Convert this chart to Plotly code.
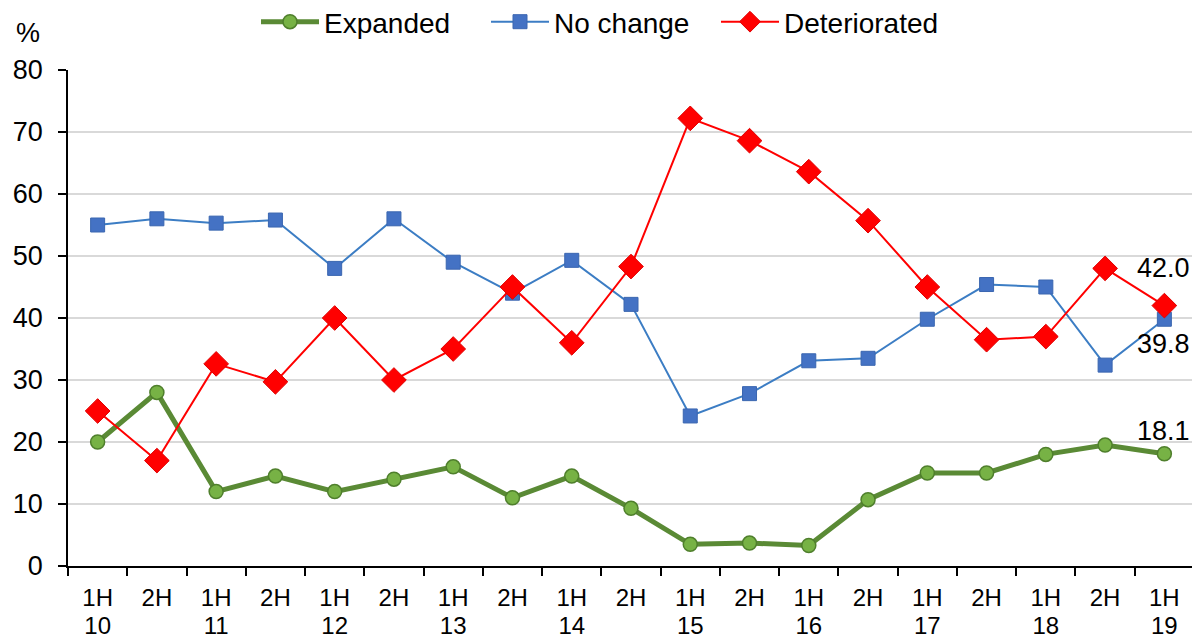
import plotly.graph_objects as go

halves = ["1H", "2H", "1H", "2H", "1H", "2H", "1H", "2H", "1H", "2H",
          "1H", "2H", "1H", "2H", "1H", "2H", "1H", "2H", "1H"]
years = ["10", "", "11", "", "12", "", "13", "", "14", "",
         "15", "", "16", "", "17", "", "18", "", "19"]
expanded = [20, 28, 12, 14.5, 12, 14, 16, 11, 14.5, 9.3, 3.5, 3.7, 3.3, 10.7, 15, 15, 18, 19.5, 18.1]
no_change = [55, 56, 55.3, 55.8, 48, 56, 49, 44, 49.3, 42.2, 24.2, 27.8, 33.1, 33.5, 39.8, 45.4, 45, 32.4, 39.8]
deteriorated = [25, 17, 32.6, 29.7, 40, 30, 35, 45, 36, 48.3, 72.2, 68.6, 63.6, 55.7, 45, 36.5, 37, 48, 42.0]

n = len(halves)
x = list(range(n))
year_pos = [i for i, y in enumerate(years) if y]
year_txt = [y for y in years if y]
font = "Liberation Sans, Arial, sans-serif"

fig = go.Figure()
fig.add_trace(go.Scatter(
    x=x, y=expanded, name="Expanded", mode="lines+markers",
    line=dict(color="#5A8A35", width=5),
    marker=dict(symbol="circle", size=14, color="#77B245", line=dict(color="#4F7F2C", width=1.5))))
fig.add_trace(go.Scatter(
    x=x, y=no_change, name="No change", mode="lines+markers",
    line=dict(color="#3C7DC4", width=2),
    marker=dict(symbol="square", size=14, color="#4472C4", line=dict(color="#3A66B0", width=1))))
fig.add_trace(go.Scatter(
    x=x, y=deteriorated, name="Deteriorated", mode="lines+markers",
    line=dict(color="#FF0000", width=2),
    marker=dict(symbol="diamond", size=19, color="#FF0000", line=dict(color="#E00000", width=1))))
fig.add_trace(go.Scatter(x=[], y=[], xaxis="x2", showlegend=False, hoverinfo="skip"))

last = n - 1
for val, yshift in [(deteriorated[-1], 38), (no_change[-1], -25), (expanded[-1], 23)]:
    fig.add_annotation(x=last, y=val, text=f"{val:.1f}", showarrow=False,
                       xanchor="center", yanchor="middle", yshift=yshift, xshift=-1,
                       font=dict(family=font, size=27, color="#000000"))

fig.add_annotation(xref="paper", yref="paper", x=-40 / 1126, y=1 + 37 / 496, text="%",
                   showarrow=False, xanchor="center", yanchor="middle",
                   font=dict(family=font, size=27, color="#000000"))

fig.update_layout(
    width=1192, height=632,
    margin=dict(l=60, r=6, t=62, b=74, autoexpand=False),
    paper_bgcolor="white", plot_bgcolor="white",
    font=dict(family=font, size=24, color="#000000"),
    showlegend=True,
    legend=dict(orientation="h", xref="container", yref="container",
                x=248 / 1192, xanchor="left", y=1 - 14 / 632, yanchor="middle",
                font=dict(family=font, size=28, color="#000000"),
                itemwidth=58, entrywidth=157, tracegroupgap=0),
    xaxis2=dict(overlaying="x", anchor="y", side="bottom",
                range=[-0.5, n - 0.5], tickvals=year_pos, ticktext=year_txt,
                ticks="", showgrid=False, zeroline=False, showline=False, automargin=False,
                tickfont=dict(family=font, size=24), ticklabelstandoff=43),
)
fig.layout.xaxis.update(
    range=[-0.5, n - 0.5], tickvals=x, ticktext=halves,
    ticks="", showgrid=False, zeroline=False, automargin=False,
    showline=True, linecolor="#000000", linewidth=1.5,
    minor=dict(tickvals=[i - 0.5 for i in range(n + 1)], ticks="outside",
               ticklen=8, tickcolor="#000000", tickwidth=1.5, showgrid=False),
    tickfont=dict(family=font, size=24), ticklabelstandoff=9,
)
fig.update_yaxes(
    range=[0, 80], dtick=10, ticks="outside", ticklen=8, tickcolor="#000000", tickwidth=1.5,
    showline=True, linecolor="#000000", linewidth=1.5, automargin=False,
    showgrid=True, gridcolor="#D9D9D9", gridwidth=1.5, zeroline=False,
    tickfont=dict(family=font, size=27), ticklabelstandoff=10,
)

fig.write_html("out.html")
